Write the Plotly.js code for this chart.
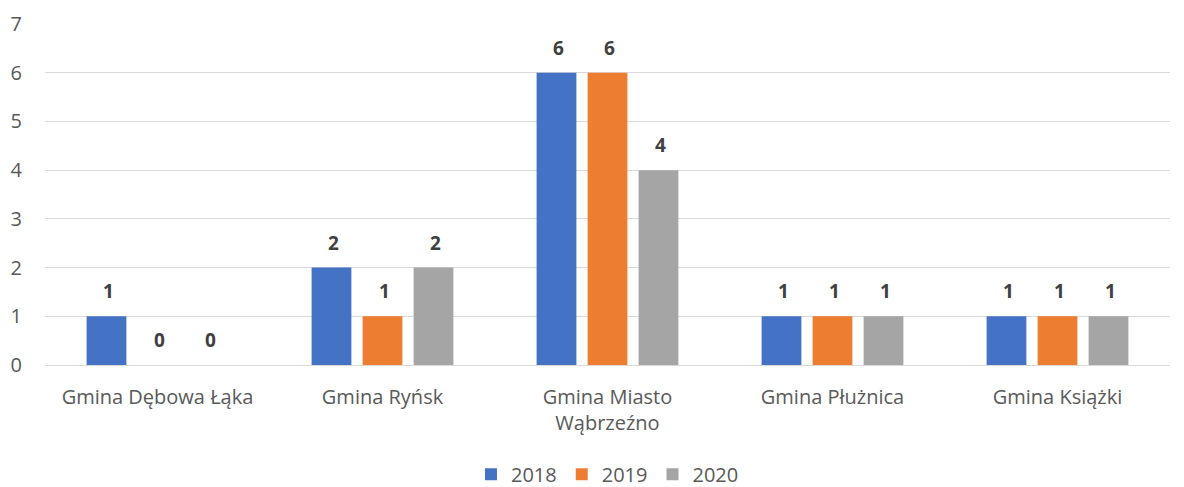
<!DOCTYPE html>
<html>
<head>
<meta charset="utf-8">
<script src="https://cdn.plot.ly/plotly-3.0.1.min.js"></script>
<style>
  body { margin: 0; background: #fff; }
  #chart { width: 1184px; height: 487px; }
</style>
</head>
<body>
<div id="chart"></div>
<script>
var categories = ['Gmina Dębowa Łąka', 'Gmina Ryńsk', 'Gmina Miasto<br>Wąbrzeźno', 'Gmina Płużnica', 'Gmina Książki'];
var years = ['2018', '2019', '2020'];
var v2018 = [1, 2, 6, 1, 1];
var v2019 = [0, 1, 6, 1, 1];
var v2020 = [0, 2, 4, 1, 1];
var colors = ['#4472C4', '#ED7D31', '#A5A5A5'];

var values = [v2018, v2019, v2020];
var data = [];
var annotations = [];
// plot is 1125px wide, 5 categories -> 225px each, bar slot ~51px
var slot = 51;

values.forEach(function (vals, i) {
  data.push({
    type: 'bar',
    name: years[i],
    x: categories,
    y: vals,
    marker: {color: colors[i]},
    hoverinfo: 'x+y+name'
  });
  vals.forEach(function (v, j) {
    annotations.push({
      x: categories[j],
      y: v,
      xref: 'x',
      yref: 'y',
      text: String(v),
      showarrow: false,
      xshift: (i - 1) * slot + 2,
      yshift: 25,
      yanchor: 'middle',
      font: {family: 'Open Sans, sans-serif', size: 19, color: '#404040', weight: 'bold'}
    });
  });
});

var layout = {
  width: 1184,
  height: 487,
  margin: {l: 45, r: 14, t: 24, b: 122},
  barmode: 'group',
  bargap: 0.32,
  bargroupgap: 0.22,
  font: {family: 'Open Sans, sans-serif', size: 20, color: '#595959'},
  paper_bgcolor: '#fff',
  plot_bgcolor: '#fff',
  xaxis: {
    showgrid: false,
    showline: false,
    ticks: '',
    automargin: false,
    ticklabelstandoff: 18,
    tickfont: {size: 20, color: '#595959'}
  },
  yaxis: {
    range: [0, 7],
    dtick: 1,
    gridcolor: '#D9D9D9',
    gridwidth: 1,
    zeroline: true,
    zerolinecolor: '#D9D9D9',
    showline: false,
    ticks: '',
    automargin: false,
    ticklabelstandoff: 22,
    tickfont: {size: 20, color: '#595959'}
  },
  annotations: annotations,
  showlegend: true,
  legend: {
    orientation: 'h',
    x: 0.5,
    xanchor: 'center',
    xref: 'paper',
    yref: 'container',
    y: 0.026,
    yanchor: 'middle',
    font: {size: 20, color: '#595959'},
    itemwidth: 30
  }
};

Plotly.newPlot('chart', data, layout, {displayModeBar: false});
</script>
</body>
</html>
